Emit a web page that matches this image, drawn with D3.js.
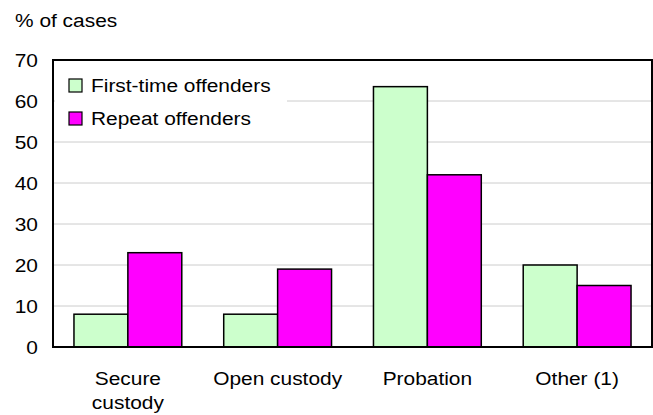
<!DOCTYPE html>
<html>
<head>
<meta charset="utf-8">
<script src="https://cdn.jsdelivr.net/npm/d3@7"></script>
<style>
  body { margin: 0; background: #fff; }
  text { font-family: "Liberation Sans", Arial, sans-serif; fill: #000; }
</style>
</head>
<body>
<div id="chart"></div>
<script>
// data
var categories = ["Secure\ncustody", "Open custody", "Probation", "Other (1)"];
var seriesNames = ["First-time offenders", "Repeat offenders"];
var firstTime = [8, 8, 63.5, 20];
var repeat = [23, 19, 42, 15];
var yTicks = [0, 10, 20, 30, 40, 50, 60, 70];

var colors = ["#ccffcc", "#ff00ff"];
var stretch = 1.1; // text in the picture is a little wide
var fontSize = "19px";

var width = 653, height = 415;
var margin = {top: 60, right: 1, bottom: 68, left: 53};
var w = width - margin.left - margin.right,
    h = height - margin.top - margin.bottom;

var svg = d3.select("#chart").append("svg")
    .attr("width", width)
    .attr("height", height);

var g = svg.append("g")
    .attr("transform", "translate(" + margin.left + "," + margin.top + ")");

var x = d3.scaleBand()
    .domain(categories)
    .range([0, w])
    .paddingInner(0.28)
    .paddingOuter(0.14);

var x1 = d3.scaleBand()
    .domain(seriesNames)
    .range([0, x.bandwidth()]);

var y = d3.scaleLinear()
    .domain([0, 70])
    .range([h, 0]);

function wideText(sel, tx, ty) {
    sel.attr("transform", "translate(" + tx + "," + ty + ") scale(" + stretch + ",1)");
}

// gridlines
g.selectAll(".grid")
    .data(yTicks.filter(function(d) { return d > 0 && d < 70; }))
    .enter().append("line")
    .attr("class", "grid")
    .attr("x1", 0).attr("x2", w)
    .attr("y1", function(d) { return y(d); })
    .attr("y2", function(d) { return y(d); })
    .attr("stroke", "#cccccc")
    .attr("stroke-width", 1);

// y tick labels
g.selectAll(".ytick")
    .data(yTicks)
    .enter().append("text")
    .attr("class", "ytick")
    .attr("text-anchor", "end")
    .attr("dy", "0.35em")
    .style("font-size", fontSize)
    .text(function(d) { return d; })
    .each(function(d) { wideText(d3.select(this), -15, y(d)); });

// bars
var rows = categories.map(function(c, i) {
    return {cat: c, vals: [firstTime[i], repeat[i]]};
});

var groups = g.selectAll(".cat")
    .data(rows)
    .enter().append("g")
    .attr("class", "cat")
    .attr("transform", function(d) { return "translate(" + x(d.cat) + ",0)"; });

groups.selectAll("rect")
    .data(function(d) { return d.vals.map(function(v, j) { return {name: seriesNames[j], value: v, j: j}; }); })
    .enter().append("rect")
    .attr("x", function(d) { return x1(d.name); })
    .attr("width", x1.bandwidth())
    .attr("y", function(d) { return y(d.value); })
    .attr("height", function(d) { return h - y(d.value); })
    .attr("fill", function(d) { return colors[d.j]; })
    .attr("stroke", "#000")
    .attr("stroke-width", 1.5);

// plot frame
g.append("rect")
    .attr("x", 0).attr("y", 0)
    .attr("width", w).attr("height", h)
    .attr("fill", "none")
    .attr("stroke", "#000")
    .attr("stroke-width", 2);

// x labels
groups.each(function(d) {
    var lines = d.cat.split("\n");
    var cx = x.bandwidth() / 2;
    lines.forEach(function(line, k) {
        d3.select(this).append("text")
            .attr("text-anchor", "middle")
            .style("font-size", fontSize)
            .text(line)
            .call(wideText, cx, h + 38 + k * 24);
    }, this);
});

// legend
var legend = g.append("g").attr("transform", "translate(2,5)");
legend.append("rect")
    .attr("width", 232).attr("height", 70)
    .attr("fill", "#fff");

var li = legend.selectAll(".li")
    .data(seriesNames)
    .enter().append("g")
    .attr("class", "li")
    .attr("transform", function(d, i) { return "translate(14," + (14 + i * 33) + ")"; });

li.append("rect")
    .attr("width", 13).attr("height", 13)
    .attr("fill", function(d, i) { return colors[i]; })
    .attr("stroke", "#000")
    .attr("stroke-width", 1.2);

li.append("text")
    .style("font-size", fontSize)
    .text(function(d) { return d; })
    .each(function() { wideText(d3.select(this), 22, 13); });

// axis title
svg.append("text")
    .style("font-size", fontSize)
    .text("% of cases")
    .call(wideText, 15, 27);
</script>
</body>
</html>
